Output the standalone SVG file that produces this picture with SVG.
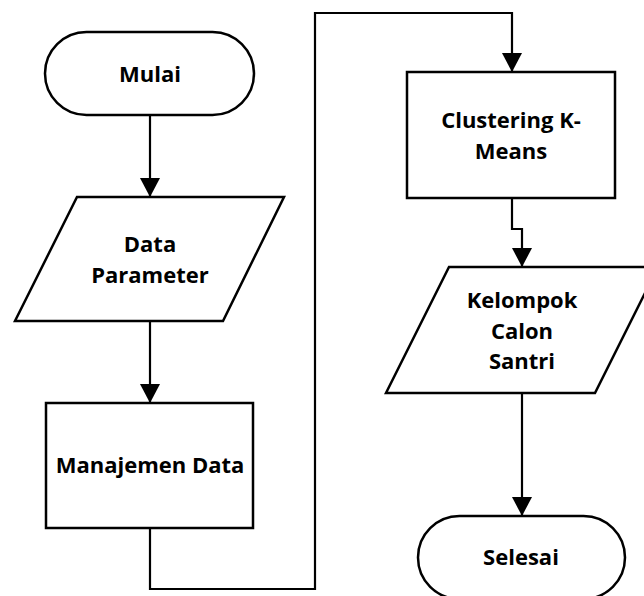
<svg xmlns="http://www.w3.org/2000/svg" width="644" height="596" viewBox="0 0 644 596">
  <style>
    .shape { fill: #ffffff; stroke: #000000; stroke-width: 2.5; }
    .edge { fill: none; stroke: #000000; stroke-width: 2.2; }
    .label { font-family: "Open Sans", "Liberation Sans", sans-serif; font-weight: bold; font-size: 22px; fill: #000000; text-anchor: middle; }
  </style>
  <defs>
    <marker id="arrow" markerUnits="userSpaceOnUse" markerWidth="20" markerHeight="20" refX="19" refY="10" orient="auto">
      <path d="M0,0 L19,10 L0,20 Z" fill="#000000"/>
    </marker>
  </defs>
  <rect width="644" height="596" fill="#ffffff"/>

  <g id="connectors">
    <path class="edge" d="M150,115 L150,197" marker-end="url(#arrow)"/>
    <path class="edge" d="M150,321 L150,403" marker-end="url(#arrow)"/>
    <path class="edge" d="M150,528 L150,589 L315,589 L315,13 L512,13 L512,72" marker-end="url(#arrow)"/>
    <path class="edge" d="M512,198 L512,229 L522,229 L522,267" marker-end="url(#arrow)"/>
    <path class="edge" d="M522,393 L522,516" marker-end="url(#arrow)"/>
  </g>

  <g id="mulai">
    <rect class="shape" x="45" y="32" width="209" height="83" rx="41.5" ry="41.5"/>
    <text class="label" x="150" y="82">Mulai</text>
  </g>

  <g id="data-parameter">
    <polygon class="shape" points="77,197 284,197 223,321 15,321"/>
    <text class="label" x="150" y="252">Data</text>
    <text class="label" x="150" y="283">Parameter</text>
  </g>

  <g id="manajemen-data">
    <rect class="shape" x="46" y="403" width="207" height="125"/>
    <text class="label" x="150" y="473">Manajemen Data</text>
  </g>

  <g id="clustering">
    <rect class="shape" x="407" y="72" width="208" height="126"/>
    <text class="label" x="511" y="128">Clustering K-</text>
    <text class="label" x="511" y="159">Means</text>
  </g>

  <g id="kelompok">
    <polygon class="shape" points="449,267 658,267 595,393 386,393"/>
    <text class="label" x="522" y="308">Kelompok</text>
    <text class="label" x="522" y="339">Calon</text>
    <text class="label" x="522" y="369">Santri</text>
  </g>

  <g id="selesai">
    <rect class="shape" x="418" y="516" width="207" height="83" rx="41.5" ry="41.5"/>
    <text class="label" x="521" y="565">Selesai</text>
  </g>
</svg>
